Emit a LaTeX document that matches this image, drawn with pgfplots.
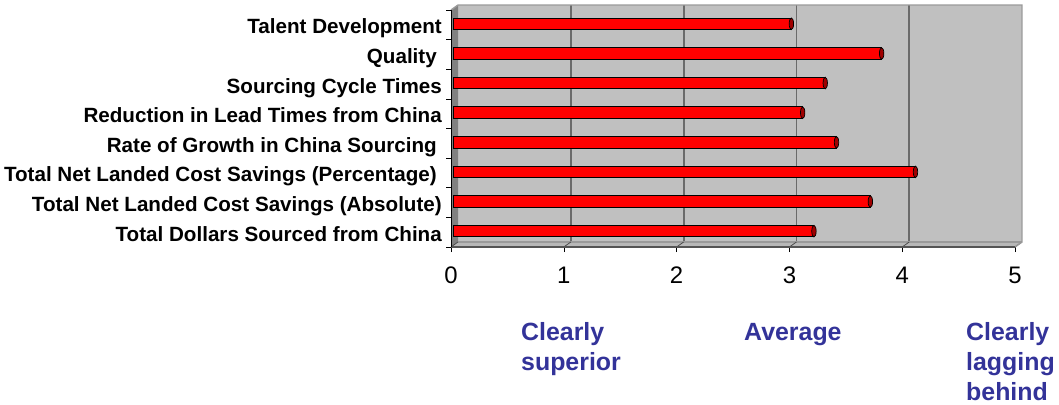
\documentclass[border=0pt]{standalone}
\usepackage{pgfplots}
\pgfplotsset{compat=1.18}
\usepackage{fontspec}
\setmainfont{Liberation Sans}

\definecolor{wall}{HTML}{C0C0C0}
\definecolor{sidewall}{HTML}{808080}
\definecolor{floorgray}{HTML}{B8B8B8}
\definecolor{gridgray}{HTML}{6A6A6A}
\definecolor{edgegray}{HTML}{9A9A9A}
\definecolor{navytext}{HTML}{333399}
\definecolor{capred}{HTML}{A00000}

% end cap of the 3-D bars
\pgfdeclareplotmark{barcap}{%
  \pgfpathellipse{\pgfpointorigin}{\pgfpoint{2.2bp}{0pt}}{\pgfpoint{0pt}{5.8bp}}%
  \pgfusepathqfillstroke}

\pgfplotstableread{
idx value
0 3.2
1 3.7
2 4.1
3 3.4
4 3.1
5 3.3
6 3.8
7 3.0
}\scores

\begin{document}
\begin{tikzpicture}[x=1bp,y=1bp]
\useasboundingbox (0,0) rectangle (1059,404);
\begin{axis}[
  at={(458bp,162bp)}, anchor=south west,
  width=564bp, height=237bp, scale only axis,
  xmin=0, xmax=5, ymin=-0.5, ymax=7.5,
  clip=false,
  axis background/.style={fill=wall},
  axis line style={draw=none},
  xtick={1,2,3,4},
  extra x ticks={0,5},
  extra x tick style={grid=none},
  xmajorgrids,
  major grid style={gridgray, line width=1.8bp},
  ytick={0,...,7},
  yticklabels={Total Dollars Sourced from China,
    Total Net Landed Cost Savings (Absolute),
    Total Net Landed Cost Savings (Percentage)\kern5bp,
    Rate of Growth in China Sourcing\kern5bp,
    Reduction in Lead Times from China,
    Sourcing Cycle Times,
    Quality\kern5bp,
    Talent Development},
  minor ytick={-0.5,0.5,...,7.5},
  ytick pos=left, xtick pos=bottom,
  tick align=outside,
  major tick length=5bp, minor tick length=5bp,
  every major y tick/.append style={draw=none},
  every minor y tick/.append style={black, line width=0.6bp, xshift=-7bp, yshift=-5bp},
  every major x tick/.append style={black, line width=0.6bp, xshift=-7bp, yshift=-5bp},
  /pgf/number format/assume math mode=true,
  xticklabel style={font=\fontsize{24}{24}\selectfont, anchor=north, inner sep=0pt, xshift=-7bp, yshift=-20bp},
  yticklabel style={font=\bfseries\fontsize{20.7}{20.7}\selectfont, anchor=base east, inner sep=0pt, xshift=-11bp, yshift=-14bp},
]
% left wall and floor of the 3-D frame
\fill[sidewall] (axis cs:0,-0.5) -- (axis cs:0,7.5) -- ([shift={(-7bp,-5bp)}]axis cs:0,7.5) -- ([shift={(-7bp,-5bp)}]axis cs:0,-0.5) -- cycle;
\fill[floorgray] (axis cs:0,-0.5) -- (axis cs:5,-0.5) -- ([shift={(-7bp,-5bp)}]axis cs:5,-0.5) -- ([shift={(-7bp,-5bp)}]axis cs:0,-0.5) -- cycle;
\draw[edgegray, line width=1.2bp] (axis cs:0,-0.5) -- (axis cs:5,-0.5);
\pgfplotsinvokeforeach{0,...,5}{
  \draw[gridgray!70!black, line width=0.8bp] (axis cs:#1,-0.5) -- ([shift={(-7bp,-5bp)}]axis cs:#1,-0.5);
}
\draw[edgegray, line width=1.4bp] ([shift={(-7bp,-5bp)}]axis cs:0,7.5) -- (axis cs:0,7.5) -- (axis cs:5,7.5) -- (axis cs:5,-0.5) -- ([shift={(-7bp,-5bp)}]axis cs:5,-0.5);
\draw[gridgray!80!black, line width=1.4bp] ([shift={(-7bp,-5bp)}]axis cs:0,-0.5) -- ([shift={(-7bp,-5bp)}]axis cs:5,-0.5);
\draw[black, line width=0.8bp] ([shift={(-7bp,-5bp)}]axis cs:0,-0.5) -- ([shift={(-7bp,-5bp)}]axis cs:0,7.5);

\addplot[xbar, bar width=11.5bp, draw=black, line width=1bp, fill=red,
  xshift=-5bp, yshift=-4bp,
  mark=barcap, mark options={fill=capred, draw=black, line width=0.7bp}]
  table[x=value, y=idx] {\scores};
\end{axis}

\begin{scope}[every node/.style={anchor=base west, inner sep=0pt, text=navytext, font=\bfseries\fontsize{25}{25}\selectfont}]
\node at (521,64) {Clearly};
\node at (521,34) {superior};
\node at (744,64) {Average};
\node at (966,64) {Clearly};
\node at (966,34) {lagging};
\node at (966,4) {behind};
\end{scope}
\end{tikzpicture}
\end{document}
